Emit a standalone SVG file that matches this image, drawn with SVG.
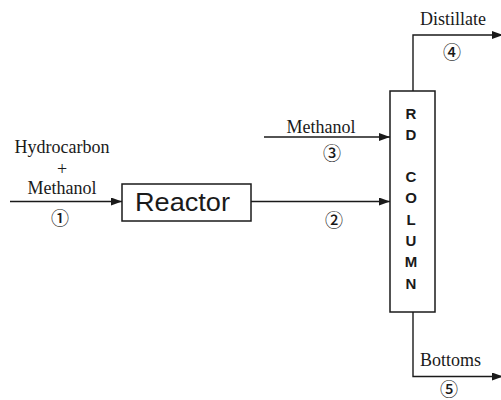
<svg xmlns="http://www.w3.org/2000/svg" width="501" height="400" viewBox="0 0 501 400">
<style>
.ln{fill:none;stroke:#1a1a1a;stroke-width:1.4}
.box{fill:#fff;stroke:#1a1a1a;stroke-width:1.5}
.lbl{font-family:"Liberation Serif",serif;font-size:18px;fill:#1a1a1a}
.num{font-family:"Noto Sans CJK JP","DejaVu Sans",sans-serif;font-size:18px;font-weight:500;fill:#1a1a1a;text-anchor:middle}
.col{font-family:"Liberation Sans",Arial,sans-serif;font-weight:bold;font-size:15px;fill:#1a1a1a;text-anchor:middle}
</style>
<defs>
<marker id="ah" markerUnits="userSpaceOnUse" markerWidth="12" markerHeight="10" refX="11" refY="4" orient="auto">
<path d="M0,0 L11,4 L0,8 Z" fill="#1a1a1a"/>
</marker>
</defs>
<g id="connectors">
<line class="ln" x1="10" y1="201.5" x2="122" y2="201.5" marker-end="url(#ah)"/>
<line class="ln" x1="251" y1="201.5" x2="390" y2="201.5" marker-end="url(#ah)"/>
<line class="ln" x1="264" y1="137" x2="390" y2="137" marker-end="url(#ah)"/>
<polyline class="ln" points="413,91 413,35 503,35" marker-end="url(#ah)"/>
<polyline class="ln" points="413,312 413,376.5 503,376.5" marker-end="url(#ah)"/>
</g>
<g id="feed">
<text class="lbl" x="62" y="153" text-anchor="middle">Hydrocarbon</text>
<text class="lbl" x="62" y="175" text-anchor="middle">+</text>
<text class="lbl" x="62" y="194" text-anchor="middle">Methanol</text>
<text class="num" x="60" y="225">①</text>
</g>
<g id="reactor">
<rect class="box" x="122" y="184" width="129" height="37"/>
<text x="135" y="211" font-family="Liberation Sans,Arial,sans-serif" font-size="26" fill="#1a1a1a" textLength="95" lengthAdjust="spacingAndGlyphs">Reactor</text>
</g>
<g id="stream2">
<text class="num" x="334" y="227">②</text>
</g>
<g id="methanol3">
<text class="lbl" x="321" y="133" text-anchor="middle">Methanol</text>
<text class="num" x="332" y="160">③</text>
</g>
<g id="column">
<rect class="box" x="390" y="91" width="45" height="221"/>
<text class="col" x="411" y="118.5">R</text>
<text class="col" x="411" y="139.5">D</text>
<text class="col" x="411" y="182">C</text>
<text class="col" x="411" y="203.3">O</text>
<text class="col" x="411" y="224.7">L</text>
<text class="col" x="411" y="246">U</text>
<text class="col" x="411" y="267.3">M</text>
<text class="col" x="411" y="288.6">N</text>
</g>
<g id="distillate">
<text class="lbl" x="420" y="25">Distillate</text>
<text class="num" x="452" y="59">④</text>
</g>
<g id="bottoms">
<text class="lbl" x="420" y="366">Bottoms</text>
<text class="num" x="449" y="396">⑤</text>
</g>
</svg>
